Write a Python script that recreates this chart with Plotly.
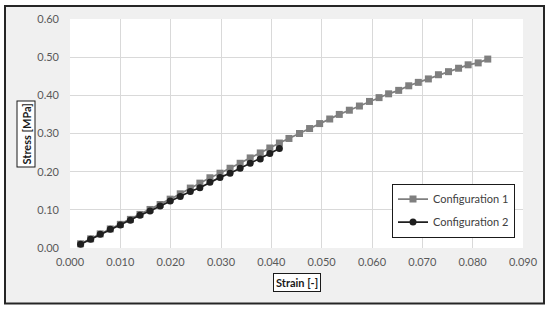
import plotly.graph_objects as go

# ---- data ----
strain_1 = [0.0021, 0.0041, 0.0060, 0.0080, 0.0100, 0.0120, 0.0139, 0.0159, 0.0179, 0.0199,
            0.0219, 0.0239, 0.0258, 0.0278, 0.0298, 0.0318, 0.0338, 0.0358, 0.0378, 0.0397,
            0.0416, 0.0435, 0.0456, 0.0476, 0.0496, 0.0516, 0.0535, 0.0555, 0.0575, 0.0595,
            0.0614, 0.0633, 0.0653, 0.0673, 0.0692, 0.0712, 0.0732, 0.0752, 0.0772, 0.0791,
            0.0811, 0.0830]
stress_1 = [0.011, 0.024, 0.037, 0.050, 0.062, 0.075, 0.088, 0.101, 0.114, 0.128,
            0.142, 0.157, 0.170, 0.184, 0.196, 0.209, 0.222, 0.236, 0.249, 0.262,
            0.275, 0.287, 0.300, 0.313, 0.326, 0.338, 0.350, 0.361, 0.372, 0.384,
            0.394, 0.404, 0.413, 0.425, 0.434, 0.443, 0.454, 0.462, 0.471, 0.480,
            0.485, 0.495]
strain_2 = [0.0021, 0.0041, 0.0060, 0.0080, 0.0100, 0.0120, 0.0139, 0.0159, 0.0179, 0.0199,
            0.0219, 0.0239, 0.0258, 0.0278, 0.0298, 0.0318, 0.0338, 0.0358, 0.0378, 0.0397,
            0.0416]
stress_2 = [0.010, 0.023, 0.036, 0.049, 0.060, 0.073, 0.086, 0.097, 0.110, 0.123,
            0.135, 0.148, 0.158, 0.172, 0.185, 0.196, 0.209, 0.222, 0.233, 0.2475,
            0.2605]
series_names = ["Configuration 1", "Configuration 2"]
x_title = "Strain [-]"
y_title = "Stress [MPa]"

FONT = "Lato"
TICK_COLOR = "#595959"

fig = go.Figure()
fig.add_trace(go.Scatter(
    x=strain_1, y=stress_1, name=series_names[0], mode="lines+markers",
    line=dict(color="#7f7f7f", width=1.75),
    marker=dict(symbol="square", size=7, color="#7f7f7f"),
    legendgroup="g1",
))
fig.add_trace(go.Scatter(
    x=strain_2, y=stress_2, name=series_names[1], mode="lines+markers",
    line=dict(color="#1f1f1f", width=1.75),
    marker=dict(symbol="circle", size=7, color="#1f1f1f"),
    legendgroup="g2",
))

L, R, T, B = 70, 27, 17, 62
W, H = 550, 310
pw, ph = W - L - R, H - T - B

def px_x(p):
    return (p - L) / pw

def px_y(p):
    return (H - B - p) / ph

fig.update_layout(
    width=W, height=H,
    margin=dict(l=L, r=R, t=T, b=B, pad=0),
    paper_bgcolor="white",
    plot_bgcolor="white",
    font=dict(family=FONT, size=11, color=TICK_COLOR),
    showlegend=True,
    legend=dict(
        x=px_x(392), y=px_y(183), xanchor="left", yanchor="top",
        bgcolor="white", bordercolor="#1a1a1a", borderwidth=1,
        font=dict(family=FONT, size=11, color="#404040"),
        traceorder="grouped", tracegroupgap=4, itemwidth=30,
    ),
    xaxis=dict(
        range=[0, 0.09], dtick=0.01, tick0=0, tickformat=".3f",
        showgrid=True, gridcolor="#d9d9d9", gridwidth=1,
        zeroline=False, showline=False, ticks="", ticklabelstandoff=6,
        tickfont=dict(family=FONT, size=11, color=TICK_COLOR),
    ),
    yaxis=dict(
        range=[0, 0.6], dtick=0.1, tick0=0, tickformat=".2f",
        showgrid=True, gridcolor="#d9d9d9", gridwidth=1,
        zeroline=False, showline=False, ticks="", ticklabelstandoff=10,
        tickfont=dict(family=FONT, size=11, color=TICK_COLOR),
    ),
    shapes=[
        dict(type="rect", xref="paper", yref="paper",
             x0=px_x(5), x1=px_x(544), y0=px_y(304), y1=px_y(4),
             fillcolor="#f0f0f0", line=dict(color="#262626", width=2), layer="below"),
        dict(type="rect", xref="paper", yref="paper",
             x0=0, x1=1, y0=0, y1=1,
             fillcolor="white", line=dict(width=0), layer="below"),
    ],
    annotations=[
        dict(text="<b>" + x_title + "</b>", xref="paper", yref="paper",
             x=px_x(297), y=px_y(282.5), xanchor="center", yanchor="middle",
             showarrow=False, font=dict(family=FONT, size=11, color="#1a1a1a"),
             bgcolor="white", bordercolor="#1a1a1a", borderwidth=1, borderpad=2),
        dict(text="<b>" + y_title + "</b>", xref="paper", yref="paper",
             x=px_x(26.5), y=px_y(133), xanchor="center", yanchor="middle",
             textangle=-90,
             showarrow=False, font=dict(family=FONT, size=11, color="#1a1a1a"),
             bgcolor="white", bordercolor="#1a1a1a", borderwidth=1, borderpad=2),
    ],
)

fig.write_html("out.html")
